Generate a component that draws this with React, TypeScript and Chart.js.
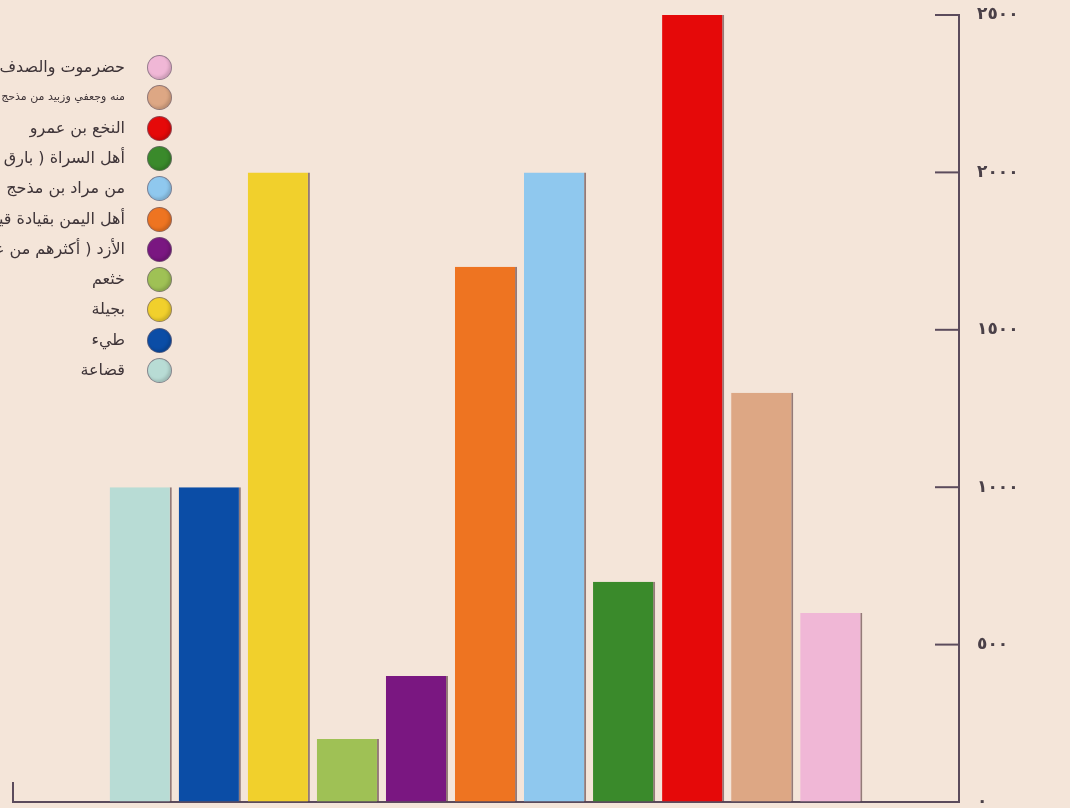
import React, { useEffect, useRef } from "react";
import { Chart, registerables } from "chart.js";

Chart.register(...registerables);

const categories = [
  "قضاعة",
  "طيء",
  "بجيلة",
  "خثعم",
  "الأزد ( أكثرهم من عمان )",
  "أهل اليمن بقيادة قيس بن مكشوح",
  "من مراد بن مذحج",
  "أهل السراة ( بارق وألمع )",
  "النخع بن عمرو",
  "منه وجعفي وزبيد من مذحج",
  "حضرموت والصدف",
];
const values = [1000, 1000, 2000, 200, 400, 1700, 2000, 700, 2500, 1300, 600];
const barColors = [
  "#b8dcd5",
  "#0b4da6",
  "#f1d02c",
  "#9fc155",
  "#7a1781",
  "#ee7421",
  "#8fc8ee",
  "#3a8a2b",
  "#e50909",
  "#dda784",
  "#f0b7d6",
];
const yTicks = [0, 500, 1000, 1500, 2000, 2500];

const toArabicDigits = (n: number) =>
  String(n).replace(/[0-9]/g, (d) => "٠١٢٣٤٥٦٧٨٩"[Number(d)]);

const AXIS_COLOR = "#5b4b5c";

const innerTicks = {
  id: "innerTicks",
  beforeDraw(chart: any) {
    (chart.ctx as any).letterSpacing = "9px";
  },
  afterDraw(chart: any) {
    const { ctx, chartArea } = chart;
    const y = chart.scales.y;
    ctx.save();
    ctx.strokeStyle = AXIS_COLOR;
    ctx.lineWidth = 2;
    yTicks.forEach((v) => {
      if (v === 0) return;
      const py = y.getPixelForValue(v);
      ctx.beginPath();
      ctx.moveTo(chartArea.right - 24, py);
      ctx.lineTo(chartArea.right, py);
      ctx.stroke();
    });
    ctx.beginPath();
    ctx.moveTo(chartArea.left, chartArea.bottom - 20);
    ctx.lineTo(chartArea.left, chartArea.bottom);
    ctx.stroke();
    ctx.restore();
    (ctx as any).letterSpacing = "0px";
  },
};

export default function App() {
  const ref = useRef<HTMLCanvasElement | null>(null);

  useEffect(() => {
    if (!ref.current) return;
    const chart = new Chart(ref.current, {
      type: "bar",
      data: {
        datasets: [
          {
            data: values.map((v, i) => ({ x: i, y: v })),
            backgroundColor: barColors,
            borderColor: "rgba(70,35,40,0.55)",
            borderWidth: { top: 0, left: 0, bottom: 0, right: 2 },
            borderSkipped: false,
            barPercentage: 0.9,
            categoryPercentage: 1,
          },
        ],
      },
      options: {
        animation: false,
        responsive: true,
        maintainAspectRatio: false,
        layout: { padding: { left: 13, top: 15, right: 0, bottom: 0 } },
        plugins: { legend: { display: false }, tooltip: { enabled: false } },
        scales: {
          x: {
            type: "linear",
            offset: false,
            min: -1.85,
            max: 11.85,
            ticks: { display: false },
            grid: { drawOnChartArea: false, drawTicks: false },
            border: { display: true, color: AXIS_COLOR, width: 2 },
            afterFit: (s: any) => {
              s.height = 6;
            },
          },
          y: {
            position: "right",
            min: 0,
            max: 2500,
            afterBuildTicks: (s: any) => {
              s.ticks = yTicks.map((v) => ({ value: v }));
            },
            ticks: {
              padding: 0,
              color: "#4a4048",
              font: { family: "DejaVu Sans", size: 17, weight: "bold", lineHeight: 0.7 },
              callback: (v: any) => toArabicDigits(Number(v)),
            },
            grid: {
              drawOnChartArea: false,
              drawTicks: true,
              tickLength: 18,
              tickColor: "rgba(0,0,0,0)",
            },
            border: { display: true, color: AXIS_COLOR, width: 2 },
            afterFit: (s: any) => {
              s.width = 111;
            },
          },
        },
      },
      plugins: [innerTicks],
    });
    return () => chart.destroy();
  }, []);

  const legendItems = categories
    .map((c, i) => ({ label: c, color: barColors[i], idx: i }))
    .reverse();

  return (
    <div
      style={{
        position: "absolute",
        left: 0,
        top: 0,
        width: 1070,
        height: 808,
        background: "#f4e5d9",
        overflow: "hidden",
      }}
    >
      <canvas ref={ref} />
      {legendItems.map((it, k) => (
        <div key={it.idx}>
          <div
            style={{
              position: "absolute",
              left: 147,
              top: 67 + k * 30.3 - 12,
              width: 25,
              height: 25,
              borderRadius: "50%",
              background: it.color,
              boxSizing: "border-box",
              border: "1.5px solid rgba(110,95,110,0.7)",
              boxShadow: "inset -2px -2px 3px rgba(0,0,0,0.15)",
            }}
          />
          <div
            style={{
              position: "absolute",
              right: 1070 - 125,
              top: 67 + k * 30.3 - 11,
              height: 22,
              lineHeight: "22px",
              direction: "rtl",
              whiteSpace: "nowrap",
              fontFamily: "DejaVu Sans",
              fontSize: it.idx === 9 ? 11 : 16,
              color: "#3e3438",
            }}
          >
            {it.label}
          </div>
        </div>
      ))}
    </div>
  );
}
